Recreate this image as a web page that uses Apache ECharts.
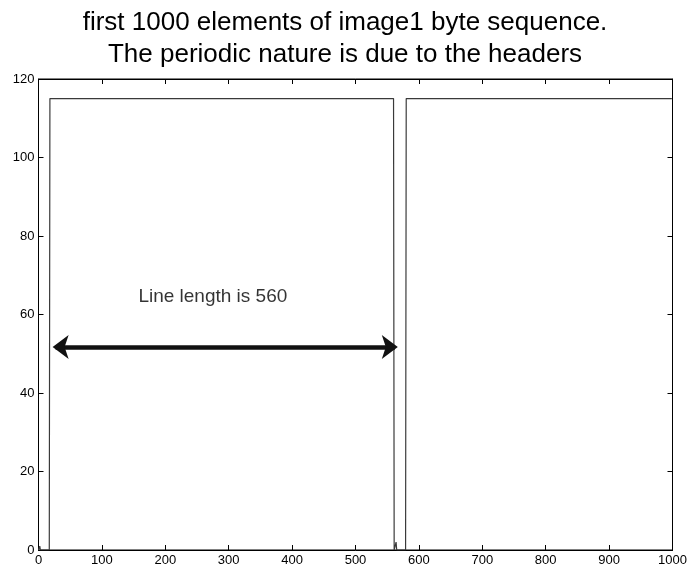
<!DOCTYPE html>
<html>
<head>
<meta charset="utf-8">
<script src="https://cdn.jsdelivr.net/npm/echarts@6/dist/echarts.min.js"></script>
<style>
  html, body { margin: 0; padding: 0; background: #fff; }
  #chart { width: 690px; height: 569px; }
</style>
</head>
<body>
<div id="chart"></div>
<script>
// Byte sequence of image1 (first 1000 elements), given as breakpoints of the trace
const seqIndex = [0, 1, 2, 3, 17, 18, 560, 561, 563, 564, 565, 579, 580, 999];
const seqValue = [0, 0, 1, 0, 0, 115, 115, 0, 0, 2, 0, 0, 115, 115];

// Annotation: the double arrow marking one line period and its caption
const arrowStart = [27, 51.7];
const arrowEnd = [562, 51.7];
const captionPos = [275, 64.6];
const captionText = 'Line length is 560';

const titleLines = ['first 1000 elements of image1 byte sequence.', 'The periodic nature is due to the headers'];
const xTicks = { min: 0, max: 1000, interval: 100 };
const yTicks = { min: 0, max: 120, interval: 20 };

const FONT = '"Liberation Sans", Arial, Helvetica, sans-serif';

const chart = echarts.init(document.getElementById('chart'), null, { renderer: 'canvas' });

const tickStyle = { show: true, inside: true, length: 5, lineStyle: { color: '#000', width: 1 } };
const lineStyleAxis = { show: true, onZero: false, lineStyle: { color: '#000', width: 1 } };
const labelStyle = { color: '#000', fontFamily: FONT, fontSize: 13, margin: 4, formatter: v => String(v) };

function axis(position, range, withLabels) {
  return {
    type: 'value',
    position: position,
    min: range.min, max: range.max, interval: range.interval,
    axisLine: lineStyleAxis,
    axisTick: tickStyle,
    splitLine: { show: false },
    axisLabel: withLabels ? labelStyle : { show: false }
  };
}

chart.setOption({
  animation: false,
  backgroundColor: '#fff',
  title: {
    text: titleLines.join('\n'),
    left: 'center',
    top: 2,
    textStyle: { color: '#000', fontFamily: FONT, fontSize: 26, fontWeight: 'normal', lineHeight: 32 }
  },
  grid: {
    left: 38.5, right: 17.5, top: 79, bottom: 19, containLabel: false,
    show: true, borderColor: '#000', borderWidth: 1, backgroundColor: 'transparent'
  },
  xAxis: [axis('bottom', xTicks, true), axis('top', xTicks, false)],
  yAxis: [axis('left', yTicks, true), axis('right', yTicks, false)],
  series: [
    {
      type: 'line',
      data: seqIndex.map((x, i) => [x, seqValue[i]]),
      showSymbol: false,
      symbol: 'none',
      lineStyle: { color: '#3a3a3a', width: 1.2 },
      silent: true,
      markLine: {
        silent: true,
        symbol: ['arrow', 'arrow'],
        symbolSize: [18, 16],
        symbolOffset: [[0, -3], [0, -3]],
        lineStyle: { color: '#111', width: 4.5, type: 'solid' },
        label: { show: false },
        data: [[{ coord: arrowStart }, { coord: arrowEnd }]]
      }
    },
    {
      // keeps the top/right mirror axes bound to the same scales
      type: 'line',
      xAxisIndex: 1,
      yAxisIndex: 1,
      data: [],
      silent: true,
      symbol: 'none'
    },
    {
      type: 'scatter',
      data: [captionPos],
      symbolSize: 0,
      silent: true,
      label: {
        show: true,
        position: 'inside',
        formatter: captionText,
        color: '#000',
        fontFamily: FONT,
        fontSize: 19
      },
      emphasis: { disabled: true }
    }
  ]
});
</script>
</body>
</html>
